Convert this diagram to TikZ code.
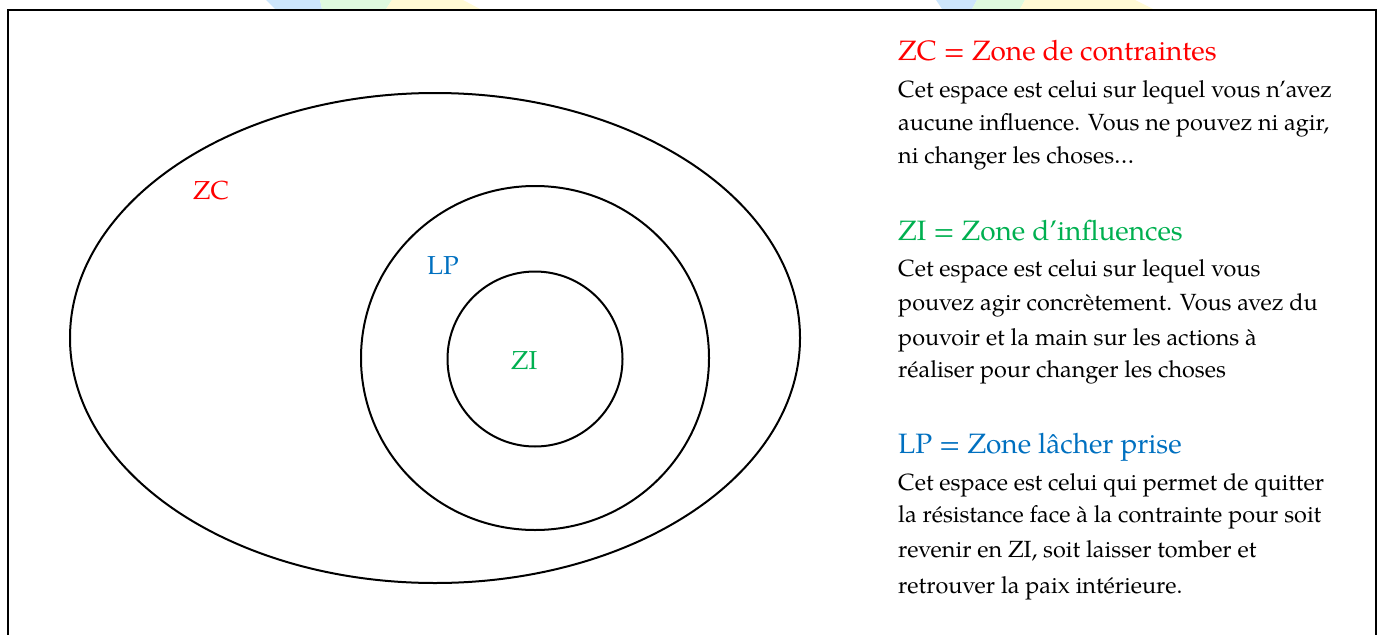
\documentclass[tikz,border=0pt]{standalone}
\usepackage{fontspec}
\setmainfont{TeX Gyre Pagella}
\definecolor{zcred}{RGB}{255,0,0}
\definecolor{zigreen}{RGB}{0,176,80}
\definecolor{lpblue}{RGB}{0,112,192}
\definecolor{washblue}{RGB}{205,230,252}
\definecolor{washgreen}{RGB}{222,250,222}
\definecolor{washyellow}{RGB}{255,250,212}
\tikzset{
  zone/.style={draw=black, line width=2pt},
  head/.style={anchor=base west, inner sep=0pt, font=\fontsize{28}{32}\selectfont},
  body/.style={anchor=base west, inner sep=0pt, font=\fontsize{23.4}{28}\selectfont},
  tag/.style={anchor=base west, inner sep=0pt, font=\fontsize{26}{30}\selectfont},
}
\begin{document}
\begin{tikzpicture}[x=1pt,y=-1pt]
\useasboundingbox (0,0) rectangle (1383,634);

% faint coloured wash peeking above the frame
\fill[washblue]   (266,0) -- (320,0) -- (322,9) -- (275,9) -- cycle;
\fill[washgreen]  (320,0) -- (392,0) -- (386,9) -- (322,9) -- cycle;
\fill[washyellow] (392,0) -- (463,0) -- (480,9) -- (386,9) -- cycle;
\fill[washblue]   (936,0) -- (977,0) -- (972,9) -- (942,9) -- cycle;
\fill[washgreen]  (977,0) -- (1025,0) -- (1020,9) -- (972,9) -- cycle;
\fill[washyellow] (1025,0) -- (1135,0) -- (1153,9) -- (1020,9) -- cycle;

% frame, open at the bottom
\draw[line width=2.5pt] (8,640) -- (8,10) -- (1376,10) -- (1376,640);

% nested zones
\draw[zone] (435,338) ellipse [x radius=365pt, y radius=245pt];
\draw[zone] (535,358) ellipse [x radius=174pt, y radius=172pt];
\draw[zone] (535,359) circle [radius=87.5pt];

% zone labels
\node[tag, text=zcred]   (zc) at (193,199) {ZC};
\node[tag, text=lpblue]  (lp) at (427,274) {LP};
\node[tag, text=zigreen] (zi) at (511,369) {ZI};

% legend
\node[head, text=zcred] (h1) at (898,60) {ZC = Zone de contraintes};
\node[body] (a1) at (898,97)  {Cet espace est celui sur lequel vous n’avez};
\node[body] (a2) at (898,130) {aucune influence. Vous ne pouvez ni agir,};
\node[body] (a3) at (898,163) {ni changer les choses…};

\node[head, text=zigreen] (h2) at (898,240) {ZI = Zone d’influences};
\node[body] (b1) at (898,276) {Cet espace est celui sur lequel vous};
\node[body] (b2) at (898,310) {pouvez agir concrètement. Vous avez du};
\node[body] (b3) at (898,345) {pouvoir et la main sur les actions à};
\node[body] (b4) at (898,377) {réaliser pour changer les choses};

\node[head, text=lpblue] (h3) at (898,453) {LP = Zone lâcher prise};
\node[body] (c1) at (898,490) {Cet espace est celui qui permet de quitter};
\node[body] (c2) at (898,522) {la résistance face à la contrainte pour soit};
\node[body] (c3) at (898,557) {revenir en ZI, soit laisser tomber et};
\node[body] (c4) at (898,593) {retrouver la paix intérieure.};
\end{tikzpicture}
\end{document}
